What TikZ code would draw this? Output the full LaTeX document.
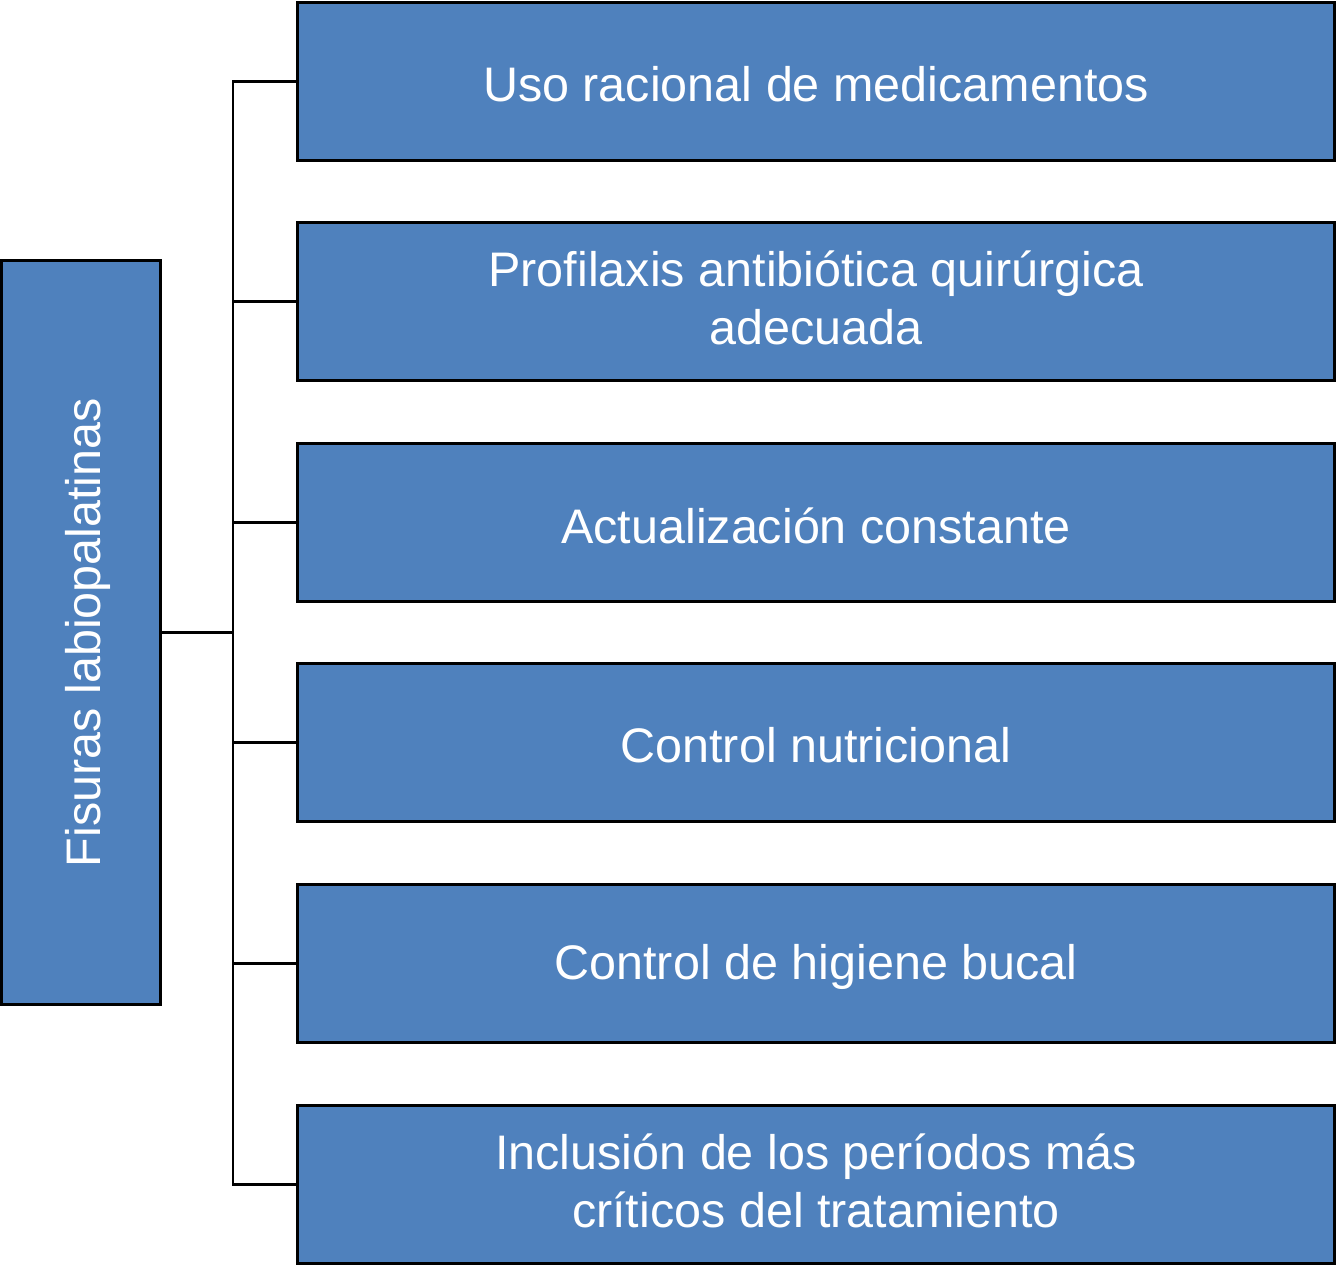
\documentclass[tikz,border=0pt]{standalone}
\usepackage{fontspec}
\setmainfont{Liberation Sans}
\definecolor{boxblue}{HTML}{4F81BD}
\begin{document}
\begin{tikzpicture}[x=1pt,y=-1pt,
  box/.style={draw=black,line width=3pt,fill=boxblue,inner sep=0pt,minimum width=1037pt,minimum height=158pt},
  txt/.style={text=white,inner sep=0pt,font=\fontsize{48.5}{58}\selectfont,align=center},
  conn/.style={draw=black,line width=2.6pt}]
\useasboundingbox (0,0) rectangle (1337,1266);
\node[box] (b1) at (816,81.5) {};
\node[box] (b2) at (816,301.5) {};
\node[box] (b3) at (816,522.5) {};
\node[box] (b4) at (816,742.5) {};
\node[box] (b5) at (816,963.5) {};
\node[box] (b6) at (816,1184.5) {};
\node[txt] (t1) at ([yshift=-3pt]b1.center) {Uso racional de medicamentos};
\node[txt] (t2) at ([yshift=4pt]b2.center) {Profilaxis antibiótica quirúrgica\\adecuada};
\node[txt] (t3) at ([yshift=-3pt]b3.center) {Actualización constante};
\node[txt] (t4) at ([yshift=-3pt]b4.center) {Control nutricional};
\node[txt] (t5) at ([yshift=-3pt]b5.center) {Control de higiene bucal};
\node[txt] (t6) at ([yshift=4pt]b6.center) {Inclusión de los períodos más\\críticos del tratamiento};
\node[box,minimum width=159pt,minimum height=744pt] (root) at (81,632.5) {};
\node[txt,rotate=90] (rootlabel) at (88,632.5) {Fisuras labiopalatinas};
\coordinate (j) at (233,632.5);
\draw[conn] (root.east) -- (j);
\draw[conn] (b1.west) -| (j);
\draw[conn] (b6.west) -| (j);
\draw[conn] (b2.west) -- (b2.west -| j);
\draw[conn] (b3.west) -- (b3.west -| j);
\draw[conn] (b4.west) -- (b4.west -| j);
\draw[conn] (b5.west) -- (b5.west -| j);
\end{tikzpicture}
\end{document}
